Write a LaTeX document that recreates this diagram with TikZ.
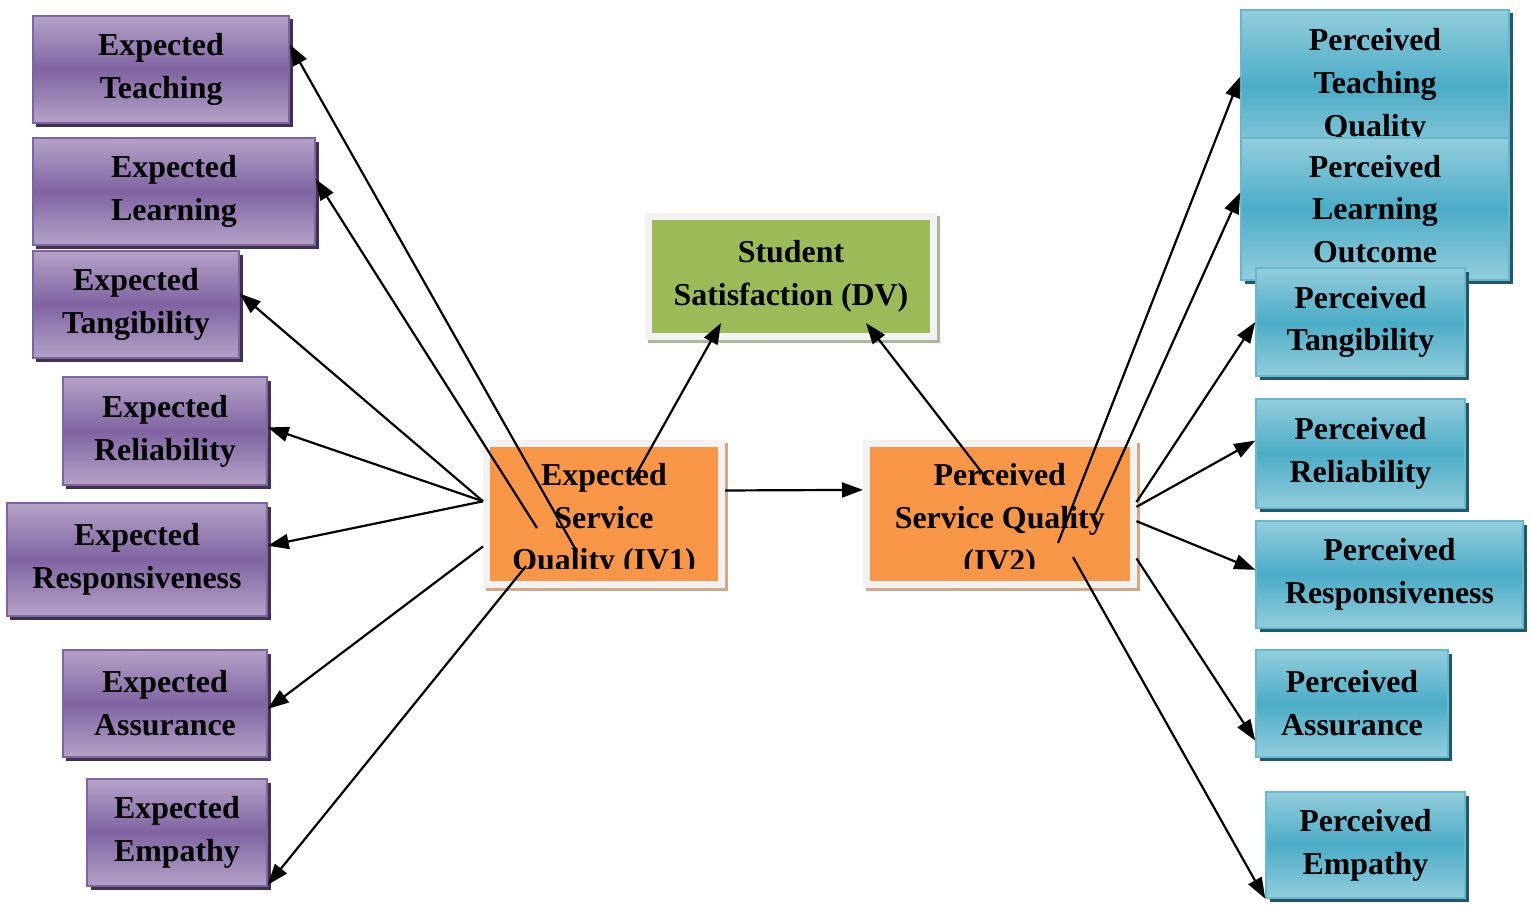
\documentclass[tikz,border=0pt]{standalone}
\usepackage{fontspec}
\setmainfont{Liberation Serif}
\usetikzlibrary{arrows.meta,shadows}
\definecolor{explight}{HTML}{B3A2C7}
\definecolor{expdark}{HTML}{8064A2}
\definecolor{expshadow}{HTML}{3F3151}
\definecolor{perlight}{HTML}{93CDDD}
\definecolor{perdark}{HTML}{4BACC6}
\definecolor{pershadow}{HTML}{215968}
\definecolor{ivorange}{HTML}{F79646}
\definecolor{ivshadow}{HTML}{D2A886}
\definecolor{dvgreen}{HTML}{9BBB59}
\definecolor{dvshadow}{HTML}{A9B89C}
\definecolor{framegray}{HTML}{F2F2F2}

\begin{document}
\begin{tikzpicture}[x=1bp,y=-1bp,font=\fontsize{32}{43}\selectfont\bfseries,
  expbox/.style={draw=expdark,line width=1.5bp,top color=explight,bottom color=explight,middle color=expdark,minimum height=107bp,inner sep=0pt,align=center,drop shadow={shadow xshift=3.5bp,shadow yshift=-3.5bp,fill=expshadow,opacity=1}},
  perbox/.style={draw=perdark!85,line width=1.5bp,top color=perlight,bottom color=perlight,middle color=perdark,minimum height=107bp,inner sep=0pt,align=center,drop shadow={shadow xshift=3.5bp,shadow yshift=-3.5bp,fill=pershadow,opacity=1}},
  ivbox/.style 2 args={draw=framegray,line width=7bp,fill=#1,inner sep=0pt,align=center,drop shadow={shadow xshift=3bp,shadow yshift=-3bp,fill=none,draw=#2,line width=7bp,opacity=1}},
  arr/.style={line width=2.2bp,-{Triangle[length=21bp,width=15bp]}}]
  \useasboundingbox (0,0) rectangle (1531,904);
  % expected side
  \node[expbox,minimum width=256bp] (et) at (161,69.5) {Expected\\Teaching};
  \node[expbox,minimum width=282bp] (el) at (174,191.5) {Expected\\Learning};
  \node[expbox,minimum width=206bp] (eg) at (136,304.5) {Expected\\Tangibility};
  \node[expbox,minimum width=204bp,minimum height=108bp] (er) at (165,431) {Expected\\Reliability};
  \node[expbox,minimum width=260bp,minimum height=113bp] (ers) at (137,559.5) {Expected\\Responsiveness};
  \node[expbox,minimum width=204bp] (ea) at (165,703.5) {Expected\\Assurance};
  \node[expbox,minimum width=180bp] (ee) at (177,832.5) {Expected\\Empathy};
  % perceived side
  \node[perbox,minimum width=268bp,minimum height=152bp] (pt) at (1375,86) {Perceived\\Teaching\\Quality};
  \node[perbox,minimum width=268bp,minimum height=142bp] (pl) at (1375,209) {Perceived\\Learning\\Outcome};
  \node[perbox,minimum width=209bp,minimum height=108bp] (pg) at (1360.5,322) {Perceived\\Tangibility};
  \node[perbox,minimum width=209bp,minimum height=109bp] (pr) at (1360.5,453.5) {Perceived\\Reliability};
  \node[perbox,minimum width=267bp] (prs) at (1389.5,574.5) {Perceived\\Responsiveness};
  \node[perbox,minimum width=192bp] (pa) at (1352,703.5) {Perceived\\Assurance};
  \node[perbox,minimum width=199bp,minimum height=106bp] (pe) at (1365.5,845) {Perceived\\Empathy};
  % middle
  \node[ivbox={dvgreen}{dvshadow},minimum width=285bp,minimum height=120bp] (ss) at (791,276) {Student\\Satisfaction (DV)};
  \node[ivbox={ivorange}{ivshadow},minimum width=235bp,minimum height=141bp] (iv1) at (604,514) {};
  \node[ivbox={ivorange}{ivshadow},minimum width=266.5bp,minimum height=141bp] (iv2) at (999.75,514) {};
  \begin{scope}
    \clip (iv1.north west) rectangle (1140,568);
    \node[align=center] (iv1txt) at (604,520.5) {Expected\\Service\\Quality (IV1)};
    \node[align=center] (iv2txt) at (999.75,520.5) {Perceived\\Service Quality\\(IV2)};
  \end{scope}
  \coordinate (q1) at (577,552); \coordinate (q2) at (537,528); \coordinate (q7) at (526,566);
  \coordinate (x1) at (633,480); \coordinate (x2) at (990,483);
  \coordinate (y1) at (721,323); \coordinate (y2) at (866,323);
  \coordinate (r1) at (1058,543); \coordinate (r2) at (1095,515); \coordinate (r7) at (1073,557);
  \draw[arr] (q1) -- (et.11.7);
  \draw[arr] (q2) -- (el.5.4);
  \draw[arr] (iv1.174.7) -- (eg.6.3);
  \draw[arr] (iv1.174.7) -- (er.2.8);
  \draw[arr] (iv1.174.7) -- (ers.6.3);
  \draw[arr] (iv1.195.6) -- (ea.357.5);
  \draw[arr] (q7) -- (ee.330.2);
  \draw[arr] (x1) -- (y1);
  \draw[arr] (x2) -- (y2);
  \draw[arr] (iv1.11.2) -- (iv2.170.9);
  \draw[arr] (r1) -- (pt.176.1);
  \draw[arr] (r2) -- (pl.173.1);
  \draw[arr] (iv2.5.2) -- (pg.west);
  \draw[arr] (iv2.3.8) -- (pr.173.7);
  \draw[arr] (iv2.357.4) -- (prs.178.1);
  \draw[arr] (iv2.342) -- (pa.201.9);
  \draw[arr] (r7) -- (pe.south west);
\end{tikzpicture}
\end{document}
